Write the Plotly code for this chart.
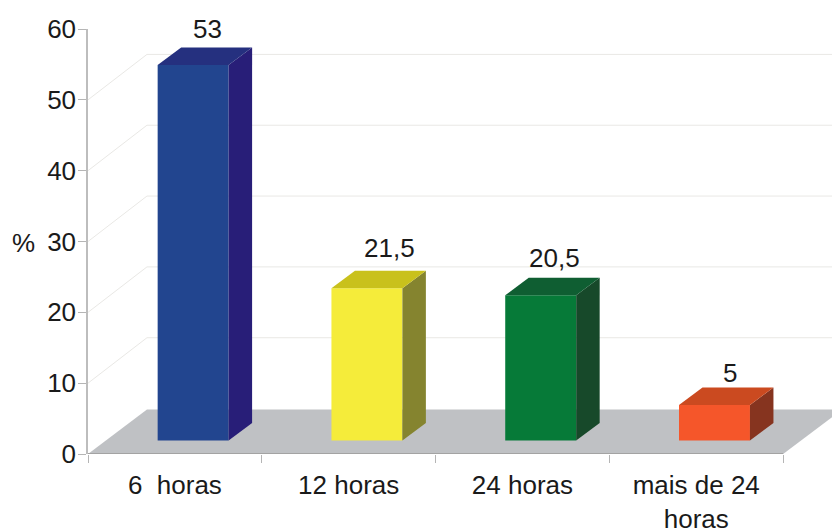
import plotly.graph_objects as go

# Data
categories = ["6  horas", "12 horas", "24 horas", "mais de 24<br>horas"]
values = [53, 21.5, 20.5, 5]
value_labels = ["53", "21,5", "20,5", "5"]
y_ticks = [0, 10, 20, 30, 40, 50, 60]
unit = "%"

# Styles
front_colors = ["#22458f", "#f5ec3a", "#067a38", "#f5562a"]
side_colors = ["#281e78", "#85842f", "#17492a", "#86341f"]
top_colors = ["#25307f", "#c9c11c", "#0f5e32", "#cb4a20"]
label_shift_x = [3, 11, 2, 4]
label_shift_y = [19, 23, 20, 15]

W, H = 832, 529
L, T, B = 87.5, 28.7, 74.7
CAT_PX = 173.9
UNIT_PX = (H - T - B) / 60
FONT = "Liberation Sans"
FS = 26

px_x = lambda p: p / CAT_PX
px_y = lambda p: p / UNIT_PX

x_max = (W - L) / CAT_PX
bar_w = px_x(71)
bar_off = 0.605
base_y = px_y(13.6)
depth_x, depth_y = px_x(23.5), px_y(17.5)
wall_x, wall_y = px_x(59), px_y(44.5)
grid_rise = px_y(45.5)

fig = go.Figure()
n = len(categories)
centers = [i + bar_off for i in range(n)]

fig.add_trace(go.Bar(
    x=centers, y=values, base=[base_y] * n, width=bar_w,
    marker=dict(color=front_colors, line=dict(width=0)),
    hoverinfo="skip", showlegend=False,
))

for cx, v, sc, tc in zip(centers, values, side_colors, top_colors):
    x0, x1 = cx - bar_w / 2, cx + bar_w / 2
    top = base_y + v
    fig.add_trace(go.Scatter(
        x=[x1, x1 + depth_x, x1 + depth_x, x1, x1],
        y=[base_y, base_y + depth_y, top + depth_y, top, base_y],
        mode="lines", fill="toself", fillcolor=sc, line=dict(width=0),
        hoverinfo="skip", showlegend=False,
    ))
    fig.add_trace(go.Scatter(
        x=[x0, x0 + depth_x, x1 + depth_x, x1, x0],
        y=[top, top + depth_y, top + depth_y, top, top],
        mode="lines", fill="toself", fillcolor=tc, line=dict(width=0),
        hoverinfo="skip", showlegend=False,
    ))

fig.add_trace(go.Scatter(
    x=[0, n], y=[0, 0], mode="lines", line=dict(color="#a3a3a3", width=2),
    cliponaxis=False, hoverinfo="skip", showlegend=False,
))

shapes = [dict(
    type="path", layer="below", xref="x", yref="y",
    path=f"M 0 0 L {wall_x} {wall_y} L {n + wall_x} {wall_y} L {n} 0 Z",
    fillcolor="#bfc1c4", line=dict(width=0),
)]
for t in y_ticks[1:-1]:
    shapes.append(dict(
        type="path", layer="below", xref="x", yref="y",
        path=f"M 0 {t} L {wall_x} {t + grid_rise} L {x_max} {t + grid_rise}",
        line=dict(color="#e9e8e5", width=1),
    ))

annotations = []
for cx, v, lab, sx, sy in zip(centers, values, value_labels, label_shift_x, label_shift_y):
    annotations.append(dict(
        x=cx + depth_x / 2, y=base_y + v + depth_y, xref="x", yref="y",
        text=lab, showarrow=False, xanchor="center", yanchor="middle",
        xshift=sx, yshift=sy, font=dict(family=FONT, size=FS, color="#1a1a1a"),
    ))
annotations.append(dict(
    x=0, y=1 - (243 - T) / (H - T - B), xref="paper", yref="paper",
    text=unit, showarrow=False, xanchor="center", yanchor="middle",
    xshift=23 - L, font=dict(family=FONT, size=FS, color="#1a1a1a"),
))

fig.update_layout(
    width=W, height=H,
    margin=dict(l=L, r=0, t=T, b=B, autoexpand=False),
    paper_bgcolor="white", plot_bgcolor="white",
    shapes=shapes, annotations=annotations,
    font=dict(family=FONT, size=FS, color="#1a1a1a"),
    xaxis=dict(
        range=[0, x_max], showgrid=False, zeroline=False, showline=False,
        tickmode="array", tickvals=[i + 0.5 for i in range(n)], ticktext=categories,
        ticks="", ticklabelstandoff=13,
        minor=dict(tickmode="array", tickvals=list(range(n + 1)), ticks="outside",
                   ticklen=8, tickcolor="#b5b5b5", tickwidth=1, showgrid=False),
    ),
    yaxis=dict(
        range=[0, 60], showgrid=False, zeroline=False, showline=True,
        linecolor="#bdbdbd", linewidth=1.5, tickmode="array", tickvals=y_ticks,
        ticks="outside", ticklen=8, tickcolor="#b5b5b5", tickwidth=1,
        ticklabelstandoff=-3,
    ),
)

fig.write_html(
    "out.html",
    config=dict(displayModeBar=False),
    post_script="document.body.style.margin='0';document.documentElement.style.overflow='hidden';",
)
